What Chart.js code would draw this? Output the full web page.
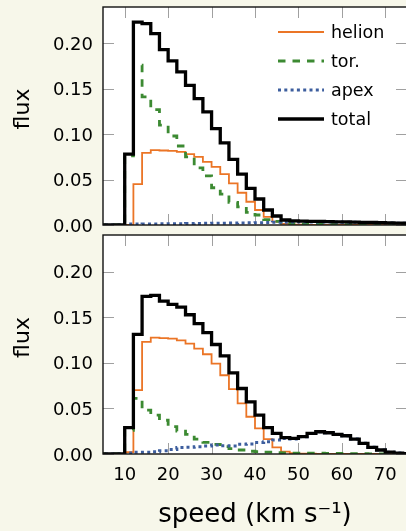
<!DOCTYPE html>
<html>
<head>
<meta charset="utf-8">
<script src="https://cdn.jsdelivr.net/npm/chart.js@4/dist/chart.umd.min.js"></script>
<style>
html, body { margin: 0; padding: 0; background: #f7f7ea; overflow: hidden; }
#wrap { position: relative; width: 406px; height: 531px; overflow: hidden; }
canvas { position: absolute; left: 0; top: 0; }
</style>
</head>
<body>
<div id="wrap">
   <canvas id="topPanel" width="407" height="531"></canvas>
   <canvas id="bottomPanel" width="407" height="531"></canvas>
</div>
<script>
'use strict';

// left edges of the 2 km/s bins, last value is the right edge of the last bin
const binEdges = [4, 6, 8, 10, 12, 14, 16, 18, 20, 22, 24, 26, 28, 30, 32, 34, 36, 38, 40,
   42, 44, 46, 48, 50, 52, 54, 56, 58, 60, 62, 64, 66, 68, 70, 72, 74, 76];

const seriesLabels = ['helion', 'tor.', 'apex', 'total'];
const xTicks = [10, 20, 30, 40, 50, 60, 70];
const yTicks = [0, 0.05, 0.10, 0.15, 0.20];

// upper panel
const helionTop = [0, 0, 0, 0, 0.045, 0.0795, 0.0824, 0.082, 0.0815, 0.0806, 0.078, 0.075,
   0.0696, 0.064, 0.056, 0.0458, 0.0355, 0.0256, 0.0165, 0.009, 0.0037, 0.0012, 0.0005,
   0.0003, 0, 0, 0, 0, 0, 0, 0, 0, 0, 0, 0, 0];
const torTop = [0, 0, 0, 0.076, 0.176, 0.141, 0.127, 0.110, 0.098, 0.087, 0.075, 0.063,
   0.054, 0.041, 0.034, 0.025, 0.020, 0.014, 0.011, 0.006, 0.004, 0.0025, 0.0015, 0.001,
   0.0008, 0.0006, 0.0005, 0.0004, 0.0003, 0.0003, 0.0002, 0.0002, 0.0001, 0.0001, 0, 0];
const apexTop = [0, 0, 0, 0.001, 0.001, 0.0012, 0.0012, 0.0013, 0.0014, 0.0015, 0.0016,
   0.0017, 0.0018, 0.0019, 0.002, 0.0021, 0.0022, 0.0024, 0.0026, 0.0028, 0.003, 0.0031,
   0.0032, 0.0033, 0.0034, 0.0034, 0.0033, 0.0032, 0.0031, 0.003, 0.0028, 0.0026, 0.0024,
   0.0022, 0.002, 0.0018];
const totalTop = [0, 0, 0, 0.078, 0.2234, 0.2216, 0.2106, 0.193, 0.1806, 0.1685, 0.1538,
   0.1392, 0.1245, 0.1062, 0.0905, 0.0722, 0.056, 0.0403, 0.0286, 0.0165, 0.0099, 0.0055,
   0.0045, 0.0042, 0.004, 0.0039, 0.0037, 0.0035, 0.0034, 0.0032, 0.003, 0.0028, 0.0026,
   0.0024, 0.0021, 0.0019];

// lower panel
const helionBottom = [0, 0, 0, 0.002, 0.070, 0.1228, 0.1275, 0.127, 0.1264, 0.1246, 0.121,
   0.1155, 0.1093, 0.099, 0.0863, 0.071, 0.0554, 0.0408, 0.028, 0.0164, 0.0073, 0.0025,
   0.001, 0.0005, 0.0003, 0.0002, 0, 0, 0, 0, 0, 0, 0, 0, 0, 0];
const torBottom = [0, 0, 0, 0.026, 0.061, 0.048, 0.0426, 0.037, 0.030, 0.025, 0.0215,
   0.0164, 0.0127, 0.0106, 0.008, 0.006, 0.0044, 0.003, 0.0025, 0.002, 0.0015, 0.0012,
   0.001, 0.001, 0.0009, 0.0008, 0.0007, 0.0006, 0.0005, 0.0004, 0.0003, 0.0002, 0.0002,
   0.0001, 0, 0];
const apexBottom = [0, 0, 0, 0.001, 0.002, 0.002, 0.0025, 0.0036, 0.005, 0.007, 0.0073,
   0.008, 0.0087, 0.0098, 0.009, 0.0087, 0.0106, 0.011, 0.0127, 0.0135, 0.0153, 0.017,
   0.0164, 0.019, 0.0226, 0.0244, 0.0233, 0.0215, 0.020, 0.0164, 0.0117, 0.0073, 0.0044,
   0.002, 0.001, 0.0005];
const totalBottom = [0, 0, 0, 0.029, 0.131, 0.1727, 0.1738, 0.1676, 0.164, 0.161, 0.1526,
   0.1428, 0.133, 0.120, 0.1075, 0.089, 0.0718, 0.0572, 0.0426, 0.029, 0.0226, 0.018,
   0.0171, 0.019, 0.0226, 0.0244, 0.0233, 0.0215, 0.020, 0.0164, 0.0117, 0.0073, 0.0044,
   0.002, 0.001, 0.0005];

const FONT = 'DejaVu Sans';
const styles = [
   {color: '#eb7526', width: 1.8, dash: [], order: 3},
   {color: '#3c8a32', width: 2.8, dash: [7.5, 7], order: 2},
   {color: '#3d5e9e', width: 3, dash: [3, 3.3], order: 1},
   {color: '#000000', width: 3.3, dash: [], order: 0}
];

function stepPoints(values) {
   let points = values.map((v, i) => ({x: binEdges[i], y: v}));
   points.push({x: binEdges[values.length], y: values[values.length - 1]});
   return points;
}

function makeDatasets(seriesList) {
   return seriesList.map((values, i) => ({
      label: seriesLabels[i],
      data: stepPoints(values),
      stepped: 'before',
      borderColor: styles[i].color,
      borderWidth: styles[i].width,
      borderDash: styles[i].dash,
      borderJoinStyle: 'miter',
      pointRadius: 0,
      fill: false,
      order: styles[i].order
   }));
}

const framePlugin = {
   id: 'frame',
   beforeDraw(chart) {
      let {ctx, chartArea: a} = chart;
      ctx.save();
      ctx.fillStyle = '#ffffff';
      ctx.fillRect(a.left, a.top, a.right - a.left, a.bottom - a.top);
      ctx.restore();
   },
   beforeDatasetsDraw(chart) {
      let {ctx, chartArea: a, scales} = chart;
      ctx.save();
      ctx.strokeStyle = '#a0a0a0';
      ctx.lineWidth = 1;
      ctx.beginPath();
      for (let v of xTicks) {
         let px = Math.round(scales.x.getPixelForValue(v)) + 0.5;
         ctx.moveTo(px, a.top); ctx.lineTo(px, a.top + 11);
         ctx.moveTo(px, a.bottom); ctx.lineTo(px, a.bottom - 11);
      }
      for (let v of yTicks) {
         let py = Math.round(scales.y.getPixelForValue(v)) + 0.5;
         ctx.moveTo(a.left, py); ctx.lineTo(a.left + 11, py);
         ctx.moveTo(a.right, py); ctx.lineTo(a.right - 11, py);
      }
      ctx.stroke();
      ctx.restore();
   },
   afterDatasetsDraw(chart, args, opts) {
      let {ctx, chartArea: a} = chart;
      ctx.save();
      ctx.strokeStyle = '#111111';
      ctx.lineWidth = 1.4;
      ctx.strokeRect(a.left, a.top, a.right - a.left, a.bottom - a.top);
      if (opts.legend) {
         ctx.font = '17.5px "' + FONT + '"';
         ctx.textBaseline = 'middle';
         ctx.fillStyle = '#000';
         chart.data.datasets.forEach((ds, i) => {
            let y = a.top + 25 + i * 29;
            ctx.beginPath();
            ctx.strokeStyle = ds.borderColor;
            ctx.lineWidth = ds.borderWidth;
            ctx.setLineDash(ds.borderDash);
            ctx.moveTo(278, y); ctx.lineTo(324, y);
            ctx.stroke();
            ctx.setLineDash([]);
            ctx.fillText(ds.label, 331, y + 1);
         });
      }
      ctx.restore();
   }
};

function makeChart(canvasId, seriesList, isBottom) {
   let ctx = document.getElementById(canvasId).getContext('2d');
   return new Chart(ctx, {
      type: 'line',
      data: {datasets: makeDatasets(seriesList)},
      plugins: [framePlugin],
      options: {
         responsive: false,
         animation: false,
         devicePixelRatio: 1,
         layout: {padding: isBottom ? {top: 235, bottom: 0, left: 0, right: 0}
                                    : {top: 7, bottom: 306, left: 0, right: 0}},
         plugins: {
            legend: {display: false},
            tooltip: {enabled: false},
            frame: {legend: !isBottom}
         },
         scales: {
            x: {
               type: 'linear',
               min: 5,
               max: 75,
               display: isBottom,
               afterFit: s => { s.height = isBottom ? 77 : 0; s.paddingLeft = 0; s.paddingRight = 0; },
               afterBuildTicks: s => { s.ticks = xTicks.map(v => ({value: v})); },
               grid: {display: false, drawTicks: false},
               border: {display: false},
               ticks: {padding: 11, color: '#000', font: {family: FONT, size: 18}},
               title: {display: true, text: 'speed (km s⁻¹)', color: '#000',
                       font: {family: FONT, size: 26}, padding: {top: 2, bottom: 0}}
            },
            y: {
               type: 'linear',
               min: 0,
               max: 0.24,
               afterFit: s => { s.width = 103; s.paddingTop = 0; s.paddingBottom = 0; },
               afterBuildTicks: s => { s.ticks = yTicks.map(v => ({value: v})); },
               grid: {display: false, drawTicks: false},
               border: {display: false},
               ticks: {padding: 10, labelOffset: 2, color: '#000', font: {family: FONT, size: 18},
                       callback: v => v.toFixed(2)},
               title: {display: true, text: '  flux', color: '#000',
                       font: {family: FONT, size: 22}, padding: {top: 10, bottom: 0}}
            }
         }
      }
   });
}

makeChart('topPanel', [helionTop, torTop, apexTop, totalTop], false);
makeChart('bottomPanel', [helionBottom, torBottom, apexBottom, totalBottom], true);
</script>
</body>
</html>
